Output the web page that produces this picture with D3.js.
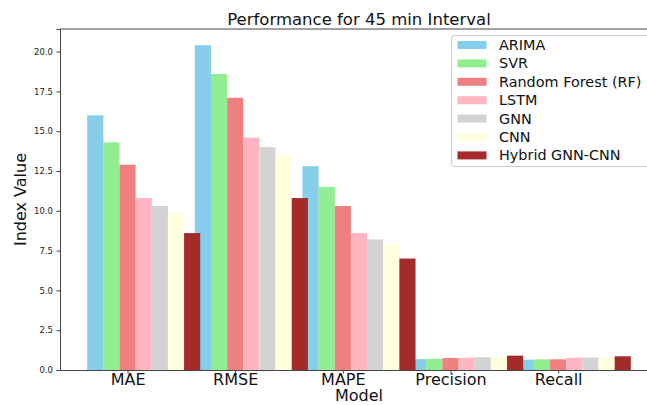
<!DOCTYPE html>
<html>
<head>
<meta charset="utf-8">
<script src="https://cdn.jsdelivr.net/npm/d3@7"></script>
<style>
  html, body { margin: 0; padding: 0; background: #fff; }
  svg { display: block; font-family: "DejaVu Sans", sans-serif; }
</style>
</head>
<body>
<div id="figure"></div>
<script>
var metrics = ["MAE", "RMSE", "MAPE", "Precision", "Recall"];
var models = ["ARIMA", "SVR", "Random Forest (RF)", "LSTM", "GNN", "CNN", "Hybrid GNN-CNN"];
var colors = ["#87ceeb", "#90ee90", "#f08080", "#ffb6c1", "#d3d3d3", "#ffffe0", "#a52a2a"];

// one array per model, in metric order
var arima  = [16.0, 20.4, 12.8, 0.68, 0.65];
var svr    = [14.3, 18.6, 11.5, 0.70, 0.67];
var rf     = [12.9, 17.1, 10.3, 0.75, 0.67];
var lstm   = [10.8, 14.6, 8.6, 0.77, 0.77];
var gnn    = [10.3, 14.0, 8.2, 0.80, 0.78];
var cnn    = [9.9, 13.5, 7.9, 0.80, 0.78];
var hybrid = [8.6, 10.8, 7.0, 0.90, 0.86];
var series = [arima, svr, rf, lstm, gnn, cnn, hybrid];

var yTicks = [0, 2.5, 5, 7.5, 10, 12.5, 15, 17.5, 20];
var barW = 0.15;

function drawChart() {
    var svg = d3.select("#figure")
        .append("svg")
        .attr("width", 647)
        .attr("height", 405);

    var left = 60, right = 658, top = 29, bottom = 370;

    var x = d3.scaleLinear()
        .domain([-0.3275, 5.2275])
        .range([left, right]);
    var y = d3.scaleLinear()
        .domain([0, 21.42])
        .range([bottom, top]);

    var bw = x(barW) - x(0);

    // bars, drawn series by series like matplotlib does
    series.forEach(function (vals, i) {
        svg.append("g")
            .selectAll("rect")
            .data(vals)
            .enter()
            .append("rect")
            .attr("x", function (d, c) { return x(c + i * barW - barW / 2); })
            .attr("y", function (d) { return y(d); })
            .attr("width", bw)
            .attr("height", function (d) { return y(0) - y(d); })
            .attr("fill", colors[i]);
    });

    // y axis
    var yAxis = svg.append("g")
        .attr("transform", "translate(" + left + ",0)")
        .call(d3.axisLeft(y).tickValues(yTicks).tickFormat(d3.format(".1f")).tickSizeOuter(0).tickSize(3.5));
    yAxis.select(".domain").attr("stroke", "#444");
    yAxis.selectAll(".tick line").attr("stroke", "#444");
    yAxis.selectAll(".tick text")
        .attr("font-family", "DejaVu Sans")
        .attr("font-size", "8.5px")
        .attr("fill", "#222")
        .attr("x", -7);

    // x axis
    var xAxis = svg.append("g")
        .attr("transform", "translate(0," + bottom + ")")
        .call(d3.axisBottom(x)
            .tickValues(d3.range(metrics.length).map(function (c) { return c + 2 * barW; }))
            .tickFormat(function (d, i) { return metrics[i]; })
            .tickSize(3.5)
            .tickSizeOuter(0));
    xAxis.select(".domain").attr("stroke", "#444");
    xAxis.selectAll(".tick line").attr("stroke", "#444");
    xAxis.selectAll(".tick text")
        .attr("font-family", "DejaVu Sans")
        .attr("font-size", "16px")
        .attr("fill", "#111")
        .attr("y", 4);

    // top and right spines
    svg.append("line")
        .attr("x1", left).attr("x2", right)
        .attr("y1", top).attr("y2", top)
        .attr("stroke", "#444");
    svg.append("line")
        .attr("x1", right).attr("x2", right)
        .attr("y1", top).attr("y2", bottom)
        .attr("stroke", "#444");

    // title and labels
    svg.append("text")
        .attr("x", (left + right) / 2)
        .attr("y", 25)
        .attr("text-anchor", "middle")
        .attr("font-size", "16.5px")
        .attr("fill", "#111")
        .text("Performance for 45 min Interval");
    svg.append("text")
        .attr("x", (left + right) / 2)
        .attr("y", 401)
        .attr("text-anchor", "middle")
        .attr("font-size", "16px")
        .attr("fill", "#111")
        .text("Model");
    svg.append("text")
        .attr("transform", "translate(26," + (top + bottom) / 2 + ") rotate(-90)")
        .attr("text-anchor", "middle")
        .attr("font-size", "16px")
        .attr("fill", "#111")
        .text("Index Value");

    // legend
    var lg = svg.append("g").attr("transform", "translate(451.5,35.5)");
    lg.append("rect")
        .attr("width", 220)
        .attr("height", 131)
        .attr("rx", 3)
        .attr("fill", "#fff")
        .attr("fill-opacity", 0.8)
        .attr("stroke", "#ccc");
    var rows = lg.selectAll("g.row")
        .data(models)
        .enter()
        .append("g")
        .attr("class", "row")
        .attr("transform", function (d, i) { return "translate(0," + (9.5 + i * 18.4) + ")"; });
    rows.append("rect")
        .attr("x", 6)
        .attr("y", -4)
        .attr("width", 29)
        .attr("height", 8)
        .attr("fill", function (d, i) { return colors[i]; });
    rows.append("text")
        .attr("x", 47.5)
        .attr("y", 5)
        .attr("font-size", "14.4px")
        .attr("fill", "#111")
        .text(function (d) { return d; });
}

drawChart();
</script>
</body>
</html>
